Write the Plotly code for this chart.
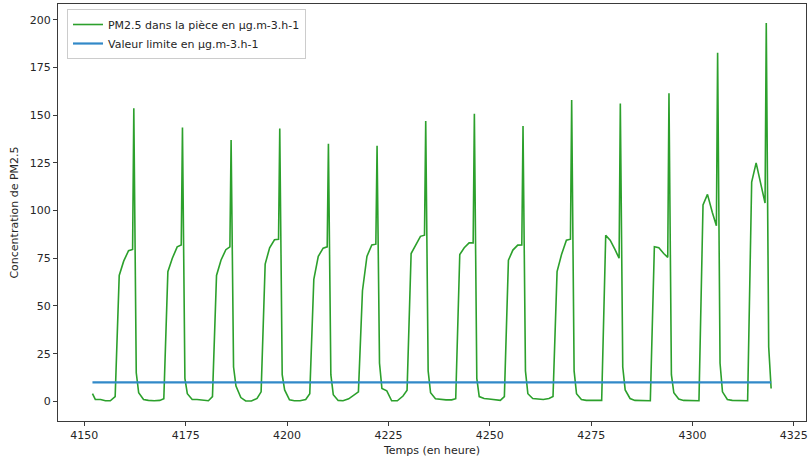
import plotly.graph_objects as go

# Time (hours) and PM2.5 concentration
time_h = [
    4152.0, 4152.7, 4154.0, 4155.2, 4156.4,
    4157.6, 4158.6, 4159.7, 4160.9, 4161.9, 4162.2, 4162.8, 4163.4, 4164.6, 4165.8, 4167.2, 4168.6,
    4169.6, 4170.6, 4171.7, 4172.9, 4173.9, 4174.2, 4174.8, 4175.4, 4176.6, 4177.8, 4179.2, 4180.6,
    4181.6, 4182.6, 4183.7, 4184.9, 4185.9, 4186.2, 4186.8, 4187.4, 4188.6, 4189.8, 4191.2, 4192.6,
    4193.6, 4194.6, 4195.7, 4196.9, 4197.9, 4198.2, 4198.8, 4199.4, 4200.6, 4201.8, 4203.2, 4204.6,
    4205.6, 4206.6, 4207.7, 4208.9, 4209.9, 4210.2, 4210.8, 4211.4, 4212.6, 4213.8, 4215.2, 4216.6,
    4217.6, 4218.6, 4219.7, 4220.9, 4221.9, 4222.2, 4222.8, 4223.4, 4224.6, 4225.8, 4227.2, 4228.6,
    4229.6, 4230.6, 4231.7, 4232.9, 4233.9, 4234.2, 4234.8, 4235.4, 4236.6, 4237.8, 4239.2, 4240.6,
    4241.6, 4242.6, 4243.7, 4244.9, 4245.9, 4246.2, 4246.8, 4247.4, 4248.6, 4249.8, 4251.2, 4252.6,
    4253.6, 4254.6, 4255.7, 4256.9, 4257.9, 4258.2, 4258.8, 4259.4, 4260.6, 4261.8, 4263.2, 4264.6,
    4265.6, 4266.6, 4267.7, 4268.9, 4269.9, 4270.2, 4270.8, 4271.4, 4272.6, 4273.8, 4275.2, 4276.6,
    4277.6, 4278.6, 4279.7, 4280.9, 4281.9, 4282.2, 4282.8, 4283.4, 4284.6, 4285.8, 4287.2, 4288.6,
    4289.6, 4290.6, 4291.7, 4292.9, 4293.9, 4294.2, 4294.8, 4295.4, 4296.6, 4297.8, 4299.2, 4300.6,
    4301.6, 4302.6, 4303.7, 4304.9, 4305.9, 4306.2, 4306.8, 4307.4, 4308.6, 4309.8, 4311.2, 4312.6,
    4313.6, 4314.6, 4315.7, 4316.9, 4317.9, 4318.2, 4318.8, 4319.4,
]

pm25 = [
    4.0, 1.0, 1.0, 0.3, 0.3,
    2.5, 66, 73.5, 79, 79.6, 153.6, 15, 4.5, 1, 0.5, 0.3, 0.5,
    1.4, 68, 75, 81, 82, 143.6, 12, 4, 1, 1, 0.5, 0.3,
    2.5, 66, 74, 79.5, 81, 137, 18, 8, 2, 0.2, 0.2, 1.5,
    5, 72, 80.5, 84.7, 85, 143, 14, 6, 0.8, 0.3, 0.3, 1,
    4, 64, 76, 80.3, 81, 135, 14, 3.5, 0.5, 0.3, 1.3, 3.4,
    5, 58, 76, 82, 82.4, 134, 20, 6.7, 5.5, 0.3, 0.3, 2.8,
    5.8, 77.5, 81.5, 86.5, 87.1, 147, 16, 4.5, 1.4, 1, 0.8, 0.8,
    1.4, 77, 80.5, 83.1, 83.1, 150.7, 12, 2.5, 1.5, 1.2, 0.8, 0.5,
    2.5, 74, 79.3, 81.9, 82, 144.4, 16, 4, 1.5, 1.2, 1, 1.5,
    2.5, 68, 77, 84.5, 85, 158, 16, 4, 1, 0.5, 0.5, 0.5,
    0.5, 87, 84.5, 79.5, 75, 156.2, 18, 6, 1.5, 0.5, 0.3, 0.3,
    0.3, 81, 80.5, 77.5, 75.5, 161.5, 14, 4.5, 1.2, 0.5, 0.3, 0.3,
    0.3, 103, 108.5, 99, 92, 182.8, 20, 5, 1, 0.5, 0.3, 0.3,
    0.3, 115, 125, 113.5, 104, 198.3, 28.5, 6.7,
]

limit_time = [4152.0, 4319.4]
limit_value = [10, 10]

x_ticks = [4150, 4175, 4200, 4225, 4250, 4275, 4300, 4325]
y_ticks = [0, 25, 50, 75, 100, 125, 150, 175, 200]

FONT = "DejaVu Sans"
INK = "#262626"

fig = go.Figure()
fig.add_trace(go.Scatter(
    x=time_h, y=pm25, mode="lines",
    name="PM2.5 dans la pièce en µg.m-3.h-1",
    line=dict(color="#2ca02c", width=1.6),
))
fig.add_trace(go.Scatter(
    x=limit_time, y=limit_value, mode="lines",
    name="Valeur limite en µg.m-3.h-1",
    line=dict(color="#3189c8", width=2.2),
))

axis_common = dict(
    showgrid=False, zeroline=False, showline=True, mirror=True,
    linecolor="#3a3a3a", linewidth=1, automargin=False,
    ticks="outside", ticklen=4, tickwidth=1, tickcolor="#3a3a3a",
    tickfont=dict(family=FONT, size=11, color=INK),
)

fig.update_layout(
    width=808, height=459,
    margin=dict(l=58, r=2, t=4, b=38),
    paper_bgcolor="white", plot_bgcolor="white",
    font=dict(family=FONT, size=11, color=INK),
    showlegend=True,
    legend=dict(
        x=0.012, y=0.988, xanchor="left", yanchor="top",
        bgcolor="rgba(255,255,255,0.85)", bordercolor="#cccccc", borderwidth=1,
        font=dict(family=FONT, size=11, color=INK),
        itemwidth=30, tracegroupgap=0,
    ),
    xaxis=dict(
        range=[4143.5, 4328.0], tickvals=x_ticks,
        ticktext=[str(v) for v in x_ticks],
        title=dict(text="Temps (en heure)", font=dict(family=FONT, size=11, color=INK), standoff=5),
        **axis_common,
    ),
    yaxis=dict(
        range=[-10.3, 208.3], tickvals=y_ticks,
        ticktext=[str(v) for v in y_ticks],
        title=dict(text="Concentration de PM2.5", font=dict(family=FONT, size=11, color=INK), standoff=8),
        **axis_common,
    ),
)

fig.write_html(
    "out.html",
    config={"displayModeBar": False},
    post_script="document.body.style.margin='0';document.body.style.overflow='hidden';",
)
